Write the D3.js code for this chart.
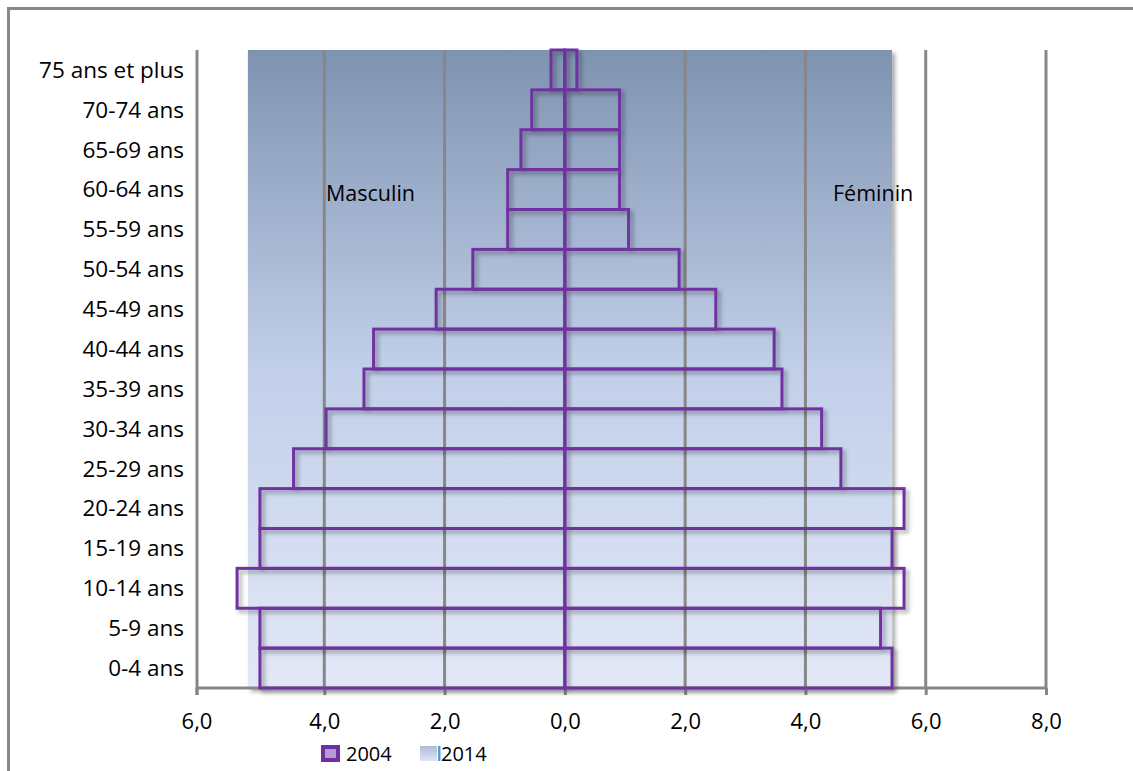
<!DOCTYPE html>
<html>
<head>
<meta charset="utf-8">
<script src="https://cdn.jsdelivr.net/npm/d3@7"></script>
<style>
  body { margin: 0; background: #fff; }
  svg { display: block; font-family: 'Open Sans', sans-serif; }
</style>
</head>
<body>
<svg id="chart" width="1133" height="771"></svg>
<script>
// age groups, top to bottom
const ageGroups = ['75 ans et plus', '70-74 ans', '65-69 ans', '60-64 ans', '55-59 ans',
  '50-54 ans', '45-49 ans', '40-44 ans', '35-39 ans', '30-34 ans', '25-29 ans',
  '20-24 ans', '15-19 ans', '10-14 ans', '5-9 ans', '0-4 ans'];

// percentages
const male2004 = [0.23, 0.55, 0.73, 0.95, 0.95, 1.53, 2.14, 3.18, 3.34, 3.97, 4.51, 5.07, 5.07, 5.45, 5.07, 5.07];
const female2004 = [0.2, 0.91, 0.91, 0.91, 1.06, 1.9, 2.51, 3.48, 3.61, 4.27, 4.59, 5.64, 5.44, 5.64, 5.25, 5.44];
const male2014 = [5.27, 5.27, 5.27, 5.27, 5.27, 5.27, 5.27, 5.27, 5.27, 5.27, 5.27, 5.27, 5.27, 5.27, 5.27, 5.27];
const female2014 = [5.44, 5.44, 5.44, 5.44, 5.44, 5.44, 5.44, 5.44, 5.44, 5.44, 5.44, 5.44, 5.44, 5.44, 5.44, 5.44];

const xTicks = [-6, -4, -2, 0, 2, 4, 6, 8];
const sexLabels = ['Masculin', 'Féminin'];
const legendLabels = ['2004', '2014'];

const svg = d3.select('#chart');
const grey = '#878787';
const purple = '#7030a0';
const axisX = 197;

const x = d3.scaleLinear().domain([-6, 8]).range([204, 1046]);
const y = d3.scaleBand().domain(ageGroups).range([50, 688]).padding(0);

const defs = svg.append('defs');
const grad = defs.append('linearGradient')
  .attr('id', 'fill2014')
  .attr('gradientUnits', 'userSpaceOnUse')
  .attr('x1', 0).attr('x2', 0).attr('y1', 50).attr('y2', 688);
grad.append('stop').attr('offset', '0%').attr('stop-color', '#7e93b0');
grad.append('stop').attr('offset', '50%').attr('stop-color', '#c2cfea');
grad.append('stop').attr('offset', '100%').attr('stop-color', '#e2e8f6');

const lg = defs.append('linearGradient').attr('id', 'legend2014')
  .attr('x1', 0).attr('x2', 0).attr('y1', 0).attr('y2', 1);
lg.append('stop').attr('offset', '0%').attr('stop-color', '#aebbd6');
lg.append('stop').attr('offset', '100%').attr('stop-color', '#dfe5f4');

const shadow = defs.append('filter').attr('id', 'shadow')
  .attr('x', '-10%').attr('y', '-10%').attr('width', '130%').attr('height', '130%');
shadow.append('feDropShadow').attr('dx', 3).attr('dy', 3).attr('stdDeviation', 2)
  .attr('flood-color', '#000').attr('flood-opacity', 0.35);

// outer frame
svg.append('rect')
  .attr('x', 8.5).attr('y', 8.5).attr('width', 1140).attr('height', 780)
  .attr('fill', 'none').attr('stroke', grey).attr('stroke-width', 3);

const rows = ageGroups.map((g, i) => ({
  g, m04: male2004[i], f04: female2004[i], m14: male2014[i], f14: female2014[i]
}));

// 2014 bars (gradient fill)
const g14 = svg.append('g').attr('filter', 'url(#shadow)');
g14.selectAll('rect.m14').data(rows).enter().append('rect')
  .attr('x', (d) => x(-d.m14)).attr('y', (d) => y(d.g))
  .attr('width', (d) => x(0) - x(-d.m14)).attr('height', y.bandwidth() + 0.5)
  .attr('fill', 'url(#fill2014)');
g14.selectAll('rect.f14').data(rows).enter().append('rect')
  .attr('x', x(0)).attr('y', (d) => y(d.g))
  .attr('width', (d) => x(d.f14) - x(0)).attr('height', y.bandwidth() + 0.5)
  .attr('fill', 'url(#fill2014)');

// vertical gridlines
svg.append('g').selectAll('line').data(xTicks.filter((t) => t !== -6 && t !== 0)).enter().append('line')
  .attr('x1', (d) => x(d)).attr('x2', (d) => x(d))
  .attr('y1', 50).attr('y2', 688)
  .attr('stroke', grey).attr('stroke-width', 3);

// x axis
const xAxis = d3.axisBottom(x).tickValues(xTicks).tickSize(7).tickPadding(18)
  .tickFormat((d) => d3.format('.1f')(Math.abs(d)).replace('.', ','));
const ax = svg.append('g').attr('transform', 'translate(0,688)').call(xAxis);
ax.select('.domain').attr('stroke', grey).attr('stroke-width', 3).attr('d', `M${axisX},0H${x(8)}`);
ax.selectAll('.tick').filter((d) => d === -6).attr('transform', `translate(${axisX},0)`);
ax.selectAll('.tick line').attr('stroke', grey).attr('stroke-width', 3);
ax.selectAll('.tick text').attr('font-size', 22).attr('fill', '#000').attr('font-family', "'Open Sans', sans-serif");

// y axis line
svg.append('line')
  .attr('x1', axisX).attr('x2', axisX).attr('y1', 50).attr('y2', 695)
  .attr('stroke', grey).attr('stroke-width', 3);

// age labels
svg.append('g').selectAll('text').data(ageGroups).enter().append('text')
  .attr('x', 184).attr('y', (d) => y(d) + y.bandwidth() / 2)
  .attr('dy', '0.35em').attr('text-anchor', 'end')
  .attr('font-size', 22.5).attr('fill', '#000')
  .text((d) => d);

// 2004 bars (outline)
const g04 = svg.append('g').attr('filter', 'url(#shadow)');
g04.selectAll('rect.m04').data(rows).enter().append('rect')
  .attr('x', (d) => x(-d.m04)).attr('y', (d) => y(d.g))
  .attr('width', (d) => x(0) - x(-d.m04)).attr('height', y.bandwidth())
  .attr('fill', 'none').attr('stroke', purple).attr('stroke-width', 3);
g04.selectAll('rect.f04').data(rows).enter().append('rect')
  .attr('x', x(0)).attr('y', (d) => y(d.g))
  .attr('width', (d) => x(d.f04) - x(0)).attr('height', y.bandwidth())
  .attr('fill', 'none').attr('stroke', purple).attr('stroke-width', 3);

// sex labels
svg.append('text').attr('x', 326).attr('y', 201).attr('font-size', 21.5).text(sexLabels[0]);
svg.append('text').attr('x', 833).attr('y', 201).attr('font-size', 21.5).text(sexLabels[1]);

// legend
const leg = svg.append('g');
leg.append('rect').attr('x', 321).attr('y', 745).attr('width', 19).attr('height', 17)
  .attr('fill', purple);
leg.append('rect').attr('x', 325).attr('y', 749).attr('width', 11).attr('height', 9)
  .attr('fill', '#b89ad2');
leg.append('text').attr('x', 346).attr('y', 761).attr('font-size', 20).text(legendLabels[0]);
leg.append('rect').attr('x', 420).attr('y', 746).attr('width', 17).attr('height', 15)
  .attr('fill', 'url(#legend2014)');
leg.append('rect').attr('x', 438).attr('y', 746).attr('width', 2.5).attr('height', 15)
  .attr('fill', '#5b9bd5');
leg.append('text').attr('x', 441).attr('y', 761).attr('font-size', 20).text(legendLabels[1]);
</script>
</body>
</html>
